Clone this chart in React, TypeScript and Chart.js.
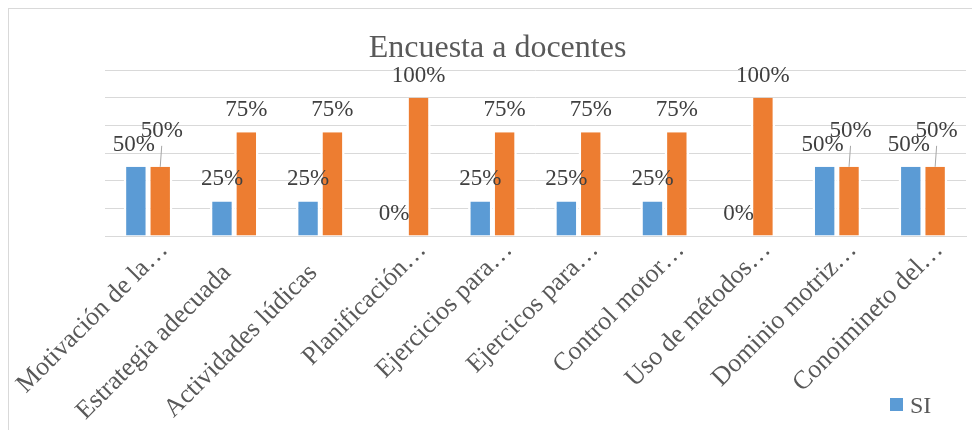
import React, { useEffect, useRef } from "react";
import { Chart, registerables } from "chart.js";

Chart.register(...registerables);

const chartTitle = "Encuesta a docentes";
const categories = [
  "Motivación de la…",
  "Estrategia adecuada",
  "Actividades lúdicas",
  "Planificación…",
  "Ejercicios para…",
  "Ejercicos para…",
  "Control motor…",
  "Uso de métodos…",
  "Dominio motriz…",
  "Conoimineto del…",
];
const seriesNames = ["SI", "NO"];
const siValues = [0.5, 0.25, 0.25, 0, 0.25, 0.25, 0.25, 0, 0.5, 0.5];
const noValues = [0.5, 0.75, 0.75, 1, 0.75, 0.75, 0.75, 1, 0.5, 0.5];
const axisMax = 1.2;
const axisStep = 0.2;

const SERIF = '"Liberation Serif", "Times New Roman", serif';
const BLUE = "#5b9bd5";
const ORANGE = "#ed7d31";
const GRID = "#d9d9d9";
const TEXT = "#595959";
const LABEL_TEXT = "#404040";
const LABEL_SIZE = 23;

const pct = (v: number) => `${Math.round(v * 100)}%`;

// Excel reserves the same label box for every category; untruncated labels
// sit further from the axis than the truncated ("…") ones.
const tickText = (label: string) => (label.endsWith("…") ? label : label + "     ");

const titlePlugin = {
  id: "frameTitle",
  afterDraw(chart: any) {
    const ctx = chart.ctx;
    ctx.save();
    ctx.font = `32px ${SERIF}`;
    ctx.fillStyle = TEXT;
    ctx.textAlign = "center";
    ctx.textBaseline = "alphabetic";
    ctx.fillText(chartTitle, chart.width / 2 + 7, 48);
    ctx.restore();
  },
};

const valueLabelPlugin = {
  id: "valueLabels",
  afterDatasetsDraw(chart: any) {
    const ctx = chart.ctx;
    const metaA = chart.getDatasetMeta(0);
    const metaB = chart.getDatasetMeta(1);
    const valsA = chart.data.datasets[0].data as number[];
    const valsB = chart.data.datasets[1].data as number[];
    ctx.save();
    ctx.font = `${LABEL_SIZE}px ${SERIF}`;
    ctx.fillStyle = LABEL_TEXT;
    ctx.textAlign = "center";
    ctx.textBaseline = "alphabetic";
    metaA.data.forEach((barA: any, i: number) => {
      const barB = metaB.data[i];
      const pa = barA.getProps(["x", "y"], true);
      const pb = barB.getProps(["x", "y"], true);
      let ax = pa.x;
      const ay = pa.y - 16;
      let bx = pb.x;
      let by = pb.y - 16;
      const clash = Math.abs(pa.y - pb.y) < 14;
      if (clash) {
        ax -= 2;
        bx += 1.5;
        by -= 14;
        ctx.save();
        ctx.strokeStyle = "#a6a6a6";
        ctx.lineWidth = 1;
        ctx.beginPath();
        ctx.moveTo(bx, by + 9);
        ctx.lineTo(pb.x, pb.y);
        ctx.stroke();
        ctx.restore();
      }
      ctx.fillText(pct(valsA[i]), ax, ay);
      ctx.fillText(pct(valsB[i]), bx, by);
    });
    ctx.restore();
  },
};

const legendPlugin = {
  id: "cornerLegend",
  afterDraw(chart: any) {
    const ctx = chart.ctx;
    const x = chart.width - 82;
    const y = 389;
    ctx.save();
    ctx.fillStyle = chart.data.datasets[0].backgroundColor;
    ctx.fillRect(x, y, 13, 13);
    ctx.font = `24px ${SERIF}`;
    ctx.fillStyle = TEXT;
    ctx.textAlign = "left";
    ctx.textBaseline = "alphabetic";
    ctx.fillText(chart.data.datasets[0].label, x + 20, y + 15);
    ctx.restore();
  },
};

export default function App() {
  const canvasRef = useRef<HTMLCanvasElement | null>(null);

  useEffect(() => {
    if (!canvasRef.current) return;
    const chart = new Chart(canvasRef.current, {
      type: "bar",
      data: {
        labels: categories,
        datasets: [
          {
            label: seriesNames[0],
            data: siValues,
            backgroundColor: BLUE,
            borderColor: "#ffffff",
            borderWidth: { left: 2.5, right: 2.5, top: 0, bottom: 0 },
            barPercentage: 1,
            categoryPercentage: 0.566,
          },
          {
            label: seriesNames[1],
            data: noValues,
            backgroundColor: ORANGE,
            borderColor: "#ffffff",
            borderWidth: { left: 2.5, right: 2.5, top: 0, bottom: 0 },
            barPercentage: 1,
            categoryPercentage: 0.566,
          },
        ],
      },
      options: {
        responsive: true,
        maintainAspectRatio: false,
        animation: false,
        layout: { padding: { left: 96, right: 6, top: 61, bottom: 0 } },
        plugins: {
          legend: { display: false },
          tooltip: { enabled: false },
          title: { display: false },
        },
        scales: {
          x: {
            grid: { display: false },
            border: { display: true, color: GRID, width: 1 },
            ticks: {
              color: TEXT,
              font: { family: SERIF, size: 26 },
              minRotation: 45,
              maxRotation: 45,
              autoSkip: false,
              padding: -9,
              labelOffset: 16,
              callback: (_v: any, i: number) => tickText(categories[i]),
            },
            afterFit: (scale: any) => {
              scale.height = 194;
              scale.paddingLeft = 0;
              scale.paddingRight = 0;
            },
          },
          y: {
            min: 0,
            max: axisMax,
            ticks: { display: false, stepSize: axisStep },
            grid: { color: GRID, lineWidth: 1, drawTicks: false },
            border: { display: false },
            afterFit: (scale: any) => {
              scale.width = 0;
            },
          },
        },
      },
      plugins: [valueLabelPlugin, titlePlugin, legendPlugin],
    });
    return () => chart.destroy();
  }, []);

  return (
    <div
      style={{
        position: "fixed",
        left: 8,
        top: 8,
        width: 963,
        height: 421,
        borderTop: `1px solid ${GRID}`,
        borderLeft: `1px solid ${GRID}`,
        background: "#ffffff",
      }}
    >
      <canvas ref={canvasRef} />
    </div>
  );
}
